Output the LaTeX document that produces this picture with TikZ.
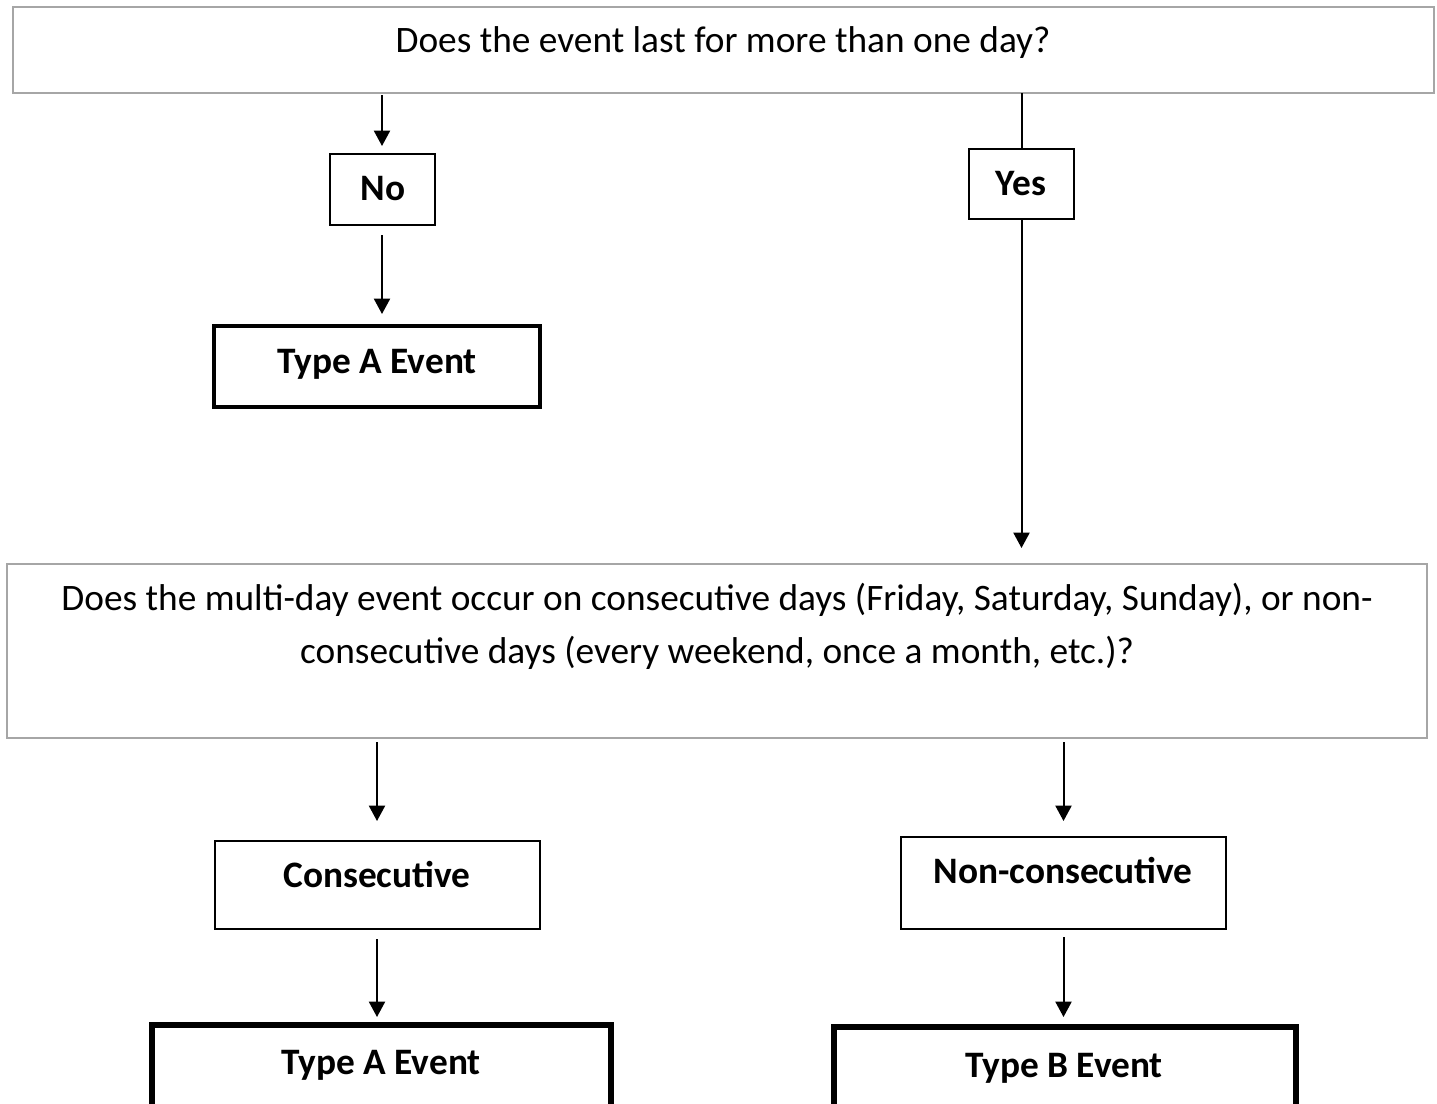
\documentclass[tikz,border=0pt]{standalone}
\usepackage{fontspec}
\setmainfont{Carlito}
\usetikzlibrary{arrows.meta}
\definecolor{boxgray}{HTML}{A6A6A6}
\tikzset{
  px/.style={x=0.75pt,y=-0.75pt},
  box/.style={draw,rectangle,inner sep=0pt,outer sep=0pt},
  qbox/.style={box,draw=boxgray,line width=1.5pt},
  ansbox/.style={box,line width=1.5pt},
  resbox/.style={box,line width=2.4pt},
  finbox/.style={box,line width=3.8pt},
  txt/.style={anchor=base,inner sep=0pt,font=\fontsize{28pt}{39.75pt}\selectfont},
  btxt/.style={txt,font=\fontsize{28pt}{39.75pt}\selectfont\bfseries},
  arr/.style={line width=1.5pt,-{Triangle[length=11.5pt,width=12pt]}},
  ln/.style={line width=1.5pt}
}
\begin{document}
\begin{tikzpicture}[px]
\useasboundingbox (0,0) rectangle (1437,1103);
\clip (0,0) rectangle (1437,1103);
% boxes
\node[qbox,minimum width=1065.75pt,minimum height=64.5pt] (q1) at (723.5,50) {};
\node[ansbox,minimum width=78.75pt,minimum height=53.25pt] (no) at (382,189.5) {};
\node[ansbox,minimum width=78.75pt,minimum height=52.5pt] (yes) at (1021.5,184) {};
\node[resbox,minimum width=244.5pt,minimum height=60.75pt] (ta1) at (377,366.5) {};
\node[qbox,minimum width=1065pt,minimum height=130.5pt] (q2) at (717,651) {};
\node[ansbox,minimum width=243.75pt,minimum height=66pt] (cons) at (377,885) {};
\node[ansbox,minimum width=243.75pt,minimum height=69pt] (ncons) at (1063.5,883) {};
\node[finbox,minimum width=344.25pt,minimum height=67.5pt] (ta2) at (381.5,1070) {};
\node[finbox,minimum width=346.5pt,minimum height=67.5pt] (tb) at (1065,1072) {};
% texts
\node[txt] (t1) at (723,52) {Does the event last for more than one day?};
\node[btxt] (tno) at (383,200) {No};
\node[btxt] (tyes) at (1021,195) {Yes};
\node[btxt] (tta1) at (377,373) {Type A Event};
\node[txt,align=center] (t2) at (717,663) {Does the multi-day event occur on consecutive days (Friday, Saturday, Sunday), or non-\\consecutive days (every weekend, once a month, etc.)?};
\node[btxt] (tcons) at (377,887) {Consecutive};
\node[btxt] (tncons) at (1063,883) {Non-consecutive};
\node[btxt] (tta2) at (381,1074) {Type A Event};
\node[btxt] (ttb) at (1064,1077) {Type B Event};
% connectors
\draw[arr,shorten <=1.5pt,shorten >=6pt] (no.north |- q1.south) -- (no.north);
\draw[arr,shorten <=7.5pt,shorten >=9pt] (no.south) -- (no.south |- ta1.north);
\draw[ln] (yes.north |- q1.south) -- (yes.north);
\draw[arr,shorten >=12pt] (yes.south) -- (yes.south |- q2.north);
\draw[arr,shorten <=3pt,shorten >=15pt] (cons.north |- q2.south) -- (cons.north);
\draw[arr,shorten <=3pt,shorten >=12pt] (q2.south -| ncons.north) -- (ncons.north);
\draw[arr,shorten <=7.5pt,shorten >=6pt] (cons.south) -- (cons.south |- ta2.north);
\draw[arr,shorten <=6pt,shorten >=7.5pt] (ncons.south) -- (ncons.south |- tb.north);
\end{tikzpicture}
\end{document}
